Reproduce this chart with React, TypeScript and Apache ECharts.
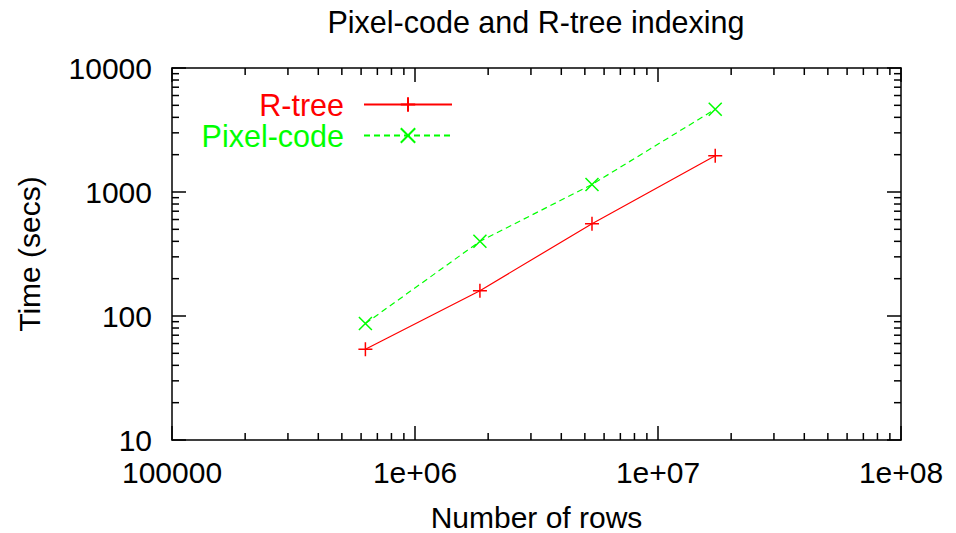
import React, { useEffect, useRef } from "react";
import * as echarts from "echarts";

const rows = [625000, 1850000, 5350000, 17200000];
const rtreeTimes = [54, 160, 555, 1960];
const pixelTimes = [87, 400, 1150, 4650];
const xTickLabels = ["100000", "1e+06", "1e+07", "1e+08"];
const yTickLabels = ["10", "100", "1000", "10000"];
const minorX = [2e5, 3e5, 4e5, 5e5, 6e5, 7e5, 8e5, 9e5, 2e6, 3e6, 4e6, 5e6, 6e6, 7e6, 8e6, 9e6, 2e7, 3e7, 4e7, 5e7, 6e7, 7e7, 8e7, 9e7];
const minorY = [20, 30, 40, 50, 60, 70, 80, 90, 200, 300, 400, 500, 600, 700, 800, 900, 2000, 3000, 4000, 5000, 6000, 7000, 8000, 9000];

const FONT = "'Liberation Sans', Arial, Helvetica, sans-serif";
const FS = 30;
const RED = "#ff0000";
const GREEN = "#00ff00";

export default function App() {
  const ref = useRef<HTMLDivElement>(null);
  useEffect(() => {
    if (!ref.current) return;
    const chart = echarts.init(ref.current, null, { renderer: "svg" });
    const lineW = 1.5;
    const axisCommon = {
      type: "log" as const,
      logBase: 10,
      axisLine: { show: true, lineStyle: { color: "#000", width: lineW } },
      axisTick: { show: true, inside: true, length: 14, lineStyle: { color: "#000", width: lineW } },
      splitLine: { show: false },
      minorTick: { show: false },
    };
    const legendCommon = {
      right: 498,
      align: "right",
      itemWidth: 88,
      itemHeight: 18,
      textStyle: { fontFamily: FONT, fontSize: 30.5, lineHeight: 30, padding: [0, 15, 0, 0] },
    };
    const option: any = {
      animation: false,
      backgroundColor: "#fff",
      title: {
        text: "Pixel-code and R-tree indexing",
        left: 531,
        textAlign: "center",
        top: 1,
        textStyle: { fontFamily: FONT, fontSize: 30.5, fontWeight: "normal", color: "#000" },
      },
      grid: { left: 172, right: 55, top: 68, bottom: 93, containLabel: false, outerBoundsMode: "none" },
      legend: [
        { ...legendCommon, top: 84, data: [{ name: "R-tree", textStyle: { color: RED } }] },
        { ...legendCommon, top: 115, data: [{ name: "Pixel-code", textStyle: { color: GREEN } }] },
      ],
      xAxis: [
        {
          ...axisCommon,
          position: "bottom",
          min: 1e5,
          max: 1e8,
          name: "Number of rows",
          nameLocation: "middle",
          nameGap: 62,
          nameTextStyle: { fontFamily: FONT, fontSize: FS, color: "#000" },
          axisLabel: {
            fontFamily: FONT,
            fontSize: FS,
            color: "#000",
            margin: 17,
            formatter: (v: number) => xTickLabels[Math.round(Math.log10(v)) - 5] ?? "",
          },
        },
        {
          ...axisCommon,
          position: "top",
          min: 1e5,
          max: 1e8,
          axisLabel: { show: false },
        },
      ],
      yAxis: [
        {
          ...axisCommon,
          position: "left",
          min: 10,
          max: 10000,
          name: "Time (secs)",
          nameLocation: "middle",
          nameGap: 128,
          nameTextStyle: { fontFamily: FONT, fontSize: FS, color: "#000" },
          axisLabel: {
            fontFamily: FONT,
            fontSize: FS,
            color: "#000",
            margin: 20,
            formatter: (v: number) => yTickLabels[Math.round(Math.log10(v)) - 1] ?? "",
          },
        },
        {
          ...axisCommon,
          position: "right",
          min: 10,
          max: 10000,
          axisLabel: { show: false },
        },
      ],
      series: [
        {
          name: "R-tree",
          type: "line",
          data: rows.map((r, i) => [r, rtreeTimes[i]]),
          symbol: "path://M5,0 L5,10 M0,5 L10,5",
          symbolSize: 14,
          showSymbol: true,
          lineStyle: { color: RED, width: 1.2, type: "solid" },
          itemStyle: { color: "rgba(0,0,0,0)", borderColor: RED, borderWidth: 1.5 },
        },
        {
          name: "Pixel-code",
          type: "line",
          data: rows.map((r, i) => [r, pixelTimes[i]]),
          symbol: "path://M0,0 L10,10 M10,0 L0,10",
          symbolSize: 13,
          showSymbol: true,
          lineStyle: { color: GREEN, width: 1.2, type: [6, 4] },
          itemStyle: { color: "rgba(0,0,0,0)", borderColor: GREEN, borderWidth: 1.5 },
        },
        {
          name: "minorX",
          type: "custom",
          silent: true,
          data: minorX.map((v) => [v, 10]),
          renderItem: (params: any, api: any) => {
            const cs = params.coordSys;
            const x = api.coord([api.value(0), 10])[0];
            const st = { stroke: "#000", lineWidth: 1.5 };
            return {
              type: "group",
              children: [
                { type: "line", shape: { x1: x, y1: cs.y + cs.height, x2: x, y2: cs.y + cs.height - 7 }, style: st },
                { type: "line", shape: { x1: x, y1: cs.y, x2: x, y2: cs.y + 7 }, style: st },
              ],
            };
          },
        },
        {
          name: "minorY",
          type: "custom",
          silent: true,
          data: minorY.map((v) => [1e5, v]),
          renderItem: (params: any, api: any) => {
            const cs = params.coordSys;
            const y = api.coord([1e5, api.value(1)])[1];
            const st = { stroke: "#000", lineWidth: 1.5 };
            return {
              type: "group",
              children: [
                { type: "line", shape: { x1: cs.x, y1: y, x2: cs.x + 7, y2: y }, style: st },
                { type: "line", shape: { x1: cs.x + cs.width, y1: y, x2: cs.x + cs.width - 7, y2: y }, style: st },
              ],
            };
          },
        },
      ],
    };
    chart.setOption(option);
    return () => chart.dispose();
  }, []);
  return <div ref={ref} style={{ width: 956, height: 533, position: "absolute", left: 0, top: 0 }} />;
}
